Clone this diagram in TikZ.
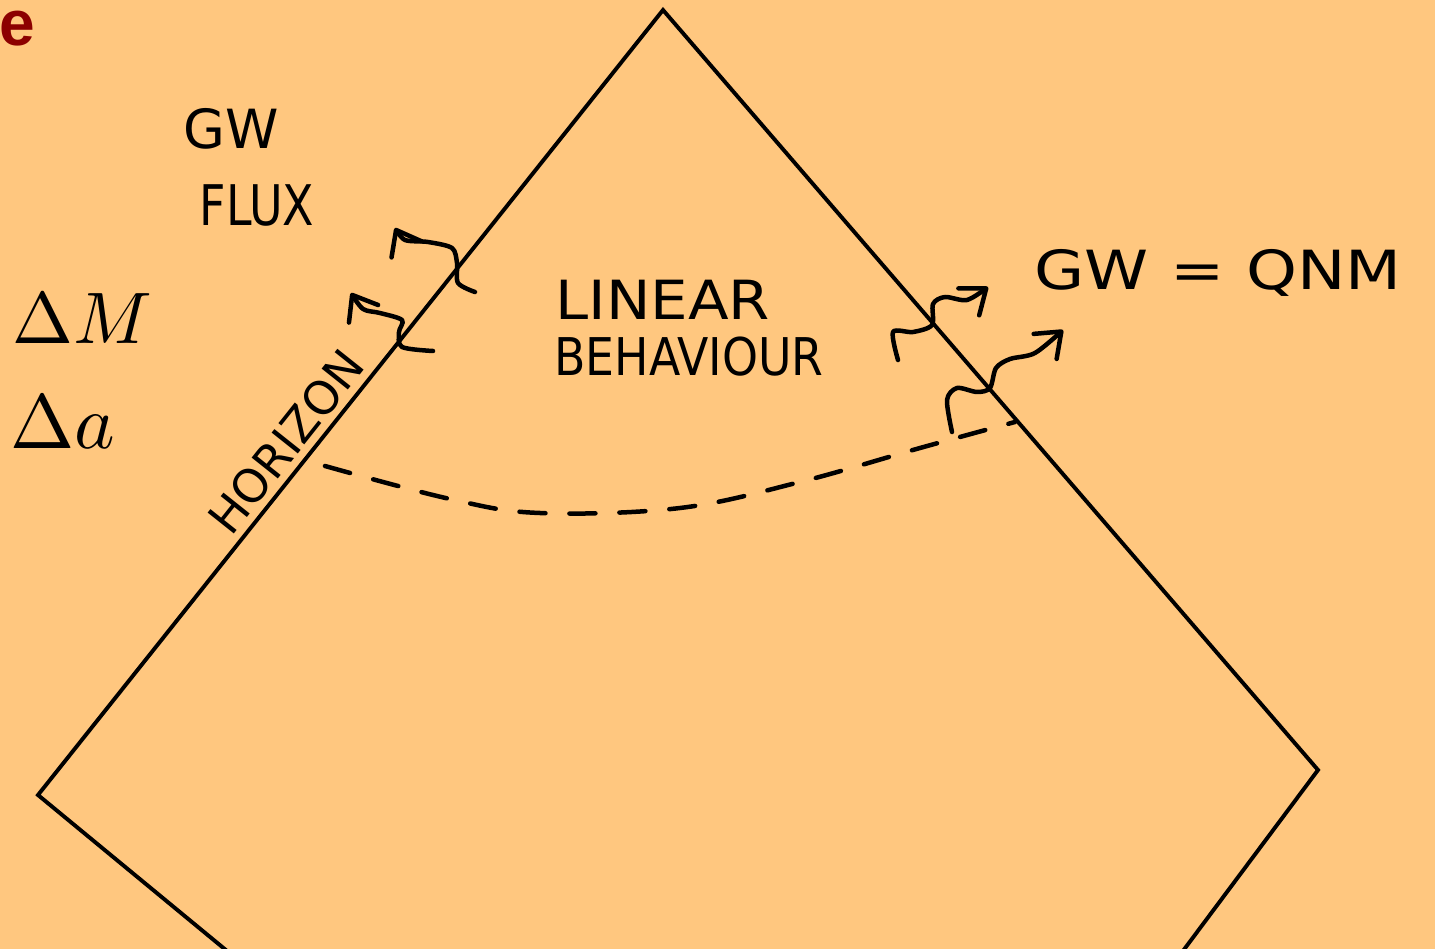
\documentclass[tikz,border=0pt]{standalone}
\usepackage{fontspec}
\usepackage{amsmath}
\usepackage{tikz}
\usetikzlibrary{arrows.meta, positioning, calc}
\newfontfamily\handfont{DejaVu Sans}
\newfontfamily\labelfont{Liberation Sans}
\definecolor{paperorange}{HTML}{FFC77F}
\definecolor{panelred}{HTML}{8C0000}

\begin{document}
\begin{tikzpicture}[x=1pt, y=-1pt,
    edge/.style={line width=3.9pt, line join=miter},
    gwave/.style={line width=4.5pt, line cap=round, line join=round,
      -{Straight Barb[length=22pt, width=34pt, round]}},
    hand/.style={font=\handfont\fontsize{#1}{#1}\selectfont, inner sep=0pt},
    hand/.default=52,
    bigmath/.style={inner sep=0pt, anchor=base west, scale=#1, transform shape},
    bigmath/.default=7.3]
  \useasboundingbox (0,0) rectangle (1435,949);
  \fill[paperorange] (0,0) rectangle (1435,949);
  \clip (0,0) rectangle (1435,949);

  % Penrose-like diamond, lower half leaves the frame
  \coordinate (top) at (663,10);
  \coordinate (west) at (38,795);
  \coordinate (east) at (1318,770);
  \coordinate (swcut) at (318,1026);
  \coordinate (secut) at (1118,1038);
  \draw[edge] (swcut) -- (west) -- (top) -- (east) -- (secut);

  % Dashed slice
  \draw[line width=4.5pt, line cap=round, dash pattern=on 26pt off 24pt]
    plot[smooth, tension=0.6] coordinates {(325,466) (450,499) (540,513)
      (680,508) (800,482) (920,448) (1015,422)};

  % Waves through the horizon
  \draw[gwave] plot[smooth, tension=0.5] coordinates {(433,351) (402,347)
    (399,332) (402,320) (380,313) (363,309) (351,293)};
  \draw[gwave] plot[smooth, tension=0.5] coordinates {(475,292) (458,283)
    (457,263) (452,248) (428,242) (405,240) (395,228)};

  % Waves out to infinity
  \draw[gwave] plot[smooth, tension=0.5] coordinates {(898,360) (893,332)
    (913,332) (932,325) (933,304) (945,297) (967,300) (988,287)};
  \draw[gwave] plot[smooth, tension=0.5] coordinates {(952,432) (947,400)
    (957,388) (977,392) (990,388) (996,368) (1010,359) (1035,353) (1063,330)};

  % Labels
  \node[font=\labelfont\bfseries\fontsize{64}{64}\selectfont, text=panelred,
    inner sep=0pt, anchor=base west] (panel) at (-1,46) {e};
  \node[hand=54, xscale=1.0] (gw) at (231,129) {GW};
  \node[hand=56, xscale=0.82] (flux) at (257,205) {FLUX};
  \node[bigmath] (dmass) at (11,344) {$\Delta M$};
  \node[bigmath=7.7] (dspin) at (9,448) {$\Delta a$};
  \node[hand=46, rotate=51.5] (horizon) at (286,442) {HORIZON};
  \node[hand=54, xscale=1.1] (linear) at (663,300) {LINEAR};
  \node[hand=52, xscale=0.88] (behaviour) at (689,357) {BEHAVIOUR};
  \node[hand=54, xscale=1.2] (qnm) at (1218,273) {GW\,\,=\,\,QNM};
\end{tikzpicture}
\end{document}
